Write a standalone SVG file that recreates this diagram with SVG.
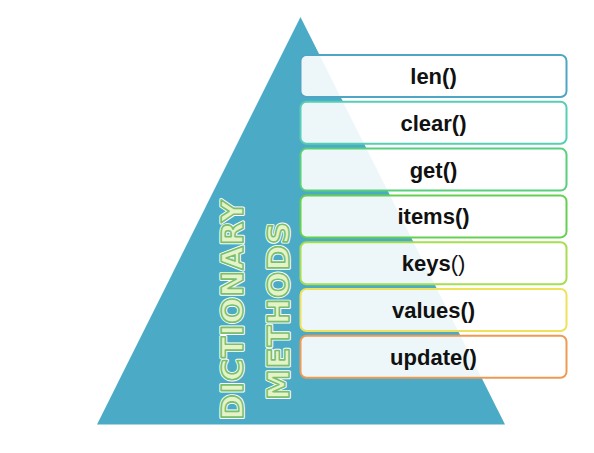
<svg xmlns="http://www.w3.org/2000/svg" width="594" height="453" viewBox="0 0 594 453">
<style>
.box{fill:#ffffff;fill-opacity:0.9;stroke-width:2}
.lbl{font-family:"Liberation Sans",Arial,sans-serif;font-weight:bold;font-size:22px;fill:#111;text-anchor:middle}
.vt{font-family:"DejaVu Sans","Liberation Sans",sans-serif;font-weight:bold;font-size:31px}
.glow{fill:none;stroke:#ffffff;stroke-width:3.5;stroke-linejoin:round}
.face{fill:#e6f3c8;stroke:#78c06c;stroke-width:1.6;stroke-linejoin:round}
</style>
<rect width="594" height="453" fill="#ffffff"/>
<g id="pyramid">
<polygon points="300.5,17 97,424.5 505,424.5" fill="#4babc6"/>
</g>
<g id="title">
<g transform="translate(243,420) rotate(-90)">
<text class="vt glow" x="0" y="0" textLength="220" lengthAdjust="spacing">DICTIONARY</text>
<text class="vt face" x="0" y="0" textLength="220" lengthAdjust="spacing">DICTIONARY</text>
</g>
<g transform="translate(289,400) rotate(-90)">
<text class="vt glow" x="0" y="0" textLength="178" lengthAdjust="spacing">METHODS</text>
<text class="vt face" x="0" y="0" textLength="178" lengthAdjust="spacing">METHODS</text>
</g>
</g>
<g id="node-len">
<rect class="box" x="300.5" y="55" width="266" height="42" rx="6" stroke="#4fa5c4"/>
<text class="lbl" x="433.5" y="84">len()</text>
</g>
<g id="node-clear">
<rect class="box" x="300.5" y="101.8" width="266" height="42" rx="6" stroke="#56cdb5"/>
<text class="lbl" x="433.5" y="130.8">clear()</text>
</g>
<g id="node-get">
<rect class="box" x="300.5" y="148.6" width="266" height="42" rx="6" stroke="#58cf7a"/>
<text class="lbl" x="433.5" y="177.6">get()</text>
</g>
<g id="node-items">
<rect class="box" x="300.5" y="195.4" width="266" height="42" rx="6" stroke="#65d050"/>
<text class="lbl" x="433.5" y="224.4">items()</text>
</g>
<g id="node-keys">
<rect class="box" x="300.5" y="242.2" width="266" height="42" rx="6" stroke="#a6de52"/>
<text class="lbl" x="433.5" y="271.2">keys<tspan font-weight="normal">()</tspan></text>
</g>
<g id="node-values">
<rect class="box" x="300.5" y="289" width="266" height="42" rx="6" stroke="#ede25a"/>
<text class="lbl" x="433.5" y="318">values()</text>
</g>
<g id="node-update">
<rect class="box" x="300.5" y="335.8" width="266" height="42" rx="6" stroke="#ee9a55"/>
<text class="lbl" x="433.5" y="364.8">update()</text>
</g>
<g id="connectors"></g>
</svg>
